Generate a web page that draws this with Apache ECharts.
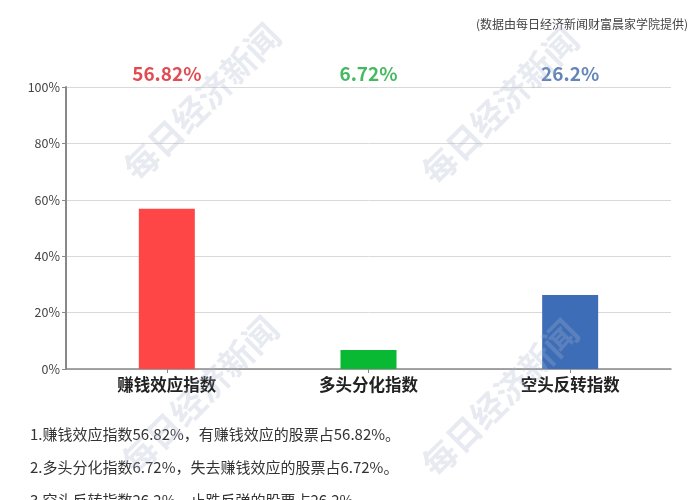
<!DOCTYPE html>
<html>
<head>
<meta charset="utf-8">
<script src="https://cdn.jsdelivr.net/npm/echarts@6/dist/echarts.min.js"></script>
<style>html,body{margin:0;padding:0;background:#fff}#c{width:700px;height:500px}</style>
</head>
<body>
<div id="c"></div>
<script>
var categories = ['赚钱效应指数', '多头分化指数', '空头反转指数'];
var values = [56.82, 6.72, 26.2];
var valueLabels = ['56.82%', '6.72%', '26.2%'];
var barColors = ['#ff4646', '#09b833', '#3e6db8'];
var labelColors = ['#d91f28', '#17a83a', '#3f66a6'];
var yTicks = [0, 20, 40, 60, 80, 100];
var notes = [
  '1.赚钱效应指数56.82%，有赚钱效应的股票占56.82%。',
  '2.多头分化指数6.72%，失去赚钱效应的股票占6.72%。',
  '3.空头反转指数26.2%，止跌反弹的股票占26.2%。'
];
var sourceText = '(数据由每日经济新闻财富晨家学院提供)';
var FONT = '"Noto Sans CJK SC", "Noto Sans", sans-serif';

var chart = echarts.init(document.getElementById('c'), null, {renderer: 'canvas'});

var wm = [[202, 102], [500, 106], [200, 395], [500, 398]];
var graphics = wm.map(function (p) {
  return {
    type: 'text', x: p[0], y: p[1], rotation: Math.PI / 4, z: 100, silent: true,
    style: {text: '每日经济新闻', font: 'bold 34px "Noto Sans CJK SC"', fill: 'rgba(170,182,205,0.28)',
      textAlign: 'center', textVerticalAlign: 'middle'}
  };
});
graphics.push({type: 'text', right: 12, top: 18, style: {text: sourceText, font: '12px ' + FONT, fill: '#444'}});
notes.forEach(function (t, i) {
  graphics.push({type: 'text', left: 30, top: 427 + i * 33, style: {text: t, font: '15px ' + FONT, fill: '#333'}});
});

chart.setOption({
  animation: false,
  grid: {left: 66, right: 29, top: 87, bottom: 131, containLabel: false},
  xAxis: {
    type: 'category', data: categories,
    axisLine: {lineStyle: {color: '#888', width: 1.5}},
    axisTick: {show: true, alignWithLabel: true, length: 4, lineStyle: {color: '#888'}},
    axisLabel: {color: '#222', fontSize: 16.5, fontWeight: 'bold', margin: 7, fontFamily: FONT}
  },
  yAxis: {
    type: 'value', min: yTicks[0], max: yTicks[yTicks.length - 1], interval: 20,
    axisLine: {show: true, lineStyle: {color: '#888', width: 2}},
    axisTick: {show: true, length: 4, lineStyle: {color: '#888'}},
    axisLabel: {color: '#444', fontSize: 12.5, margin: 6, fontFamily: FONT, formatter: '{value}%'},
    splitLine: {lineStyle: {color: '#d9d9d9'}}
  },
  series: [
    {
      type: 'bar', barWidth: 56,
      data: values.map(function (v, i) { return {value: v, itemStyle: {color: barColors[i]}}; })
    },
    {
      type: 'scatter', symbolSize: 0, silent: true,
      data: values.map(function (v, i) {
        return {value: [i, yTicks[yTicks.length - 1]],
          label: {show: true, position: 'top', distance: 4, formatter: valueLabels[i],
            color: labelColors[i], fontSize: 19, fontWeight: 'bold', fontFamily: FONT}};
      })
    }
  ],
  graphic: graphics
});
</script>
</body>
</html>
